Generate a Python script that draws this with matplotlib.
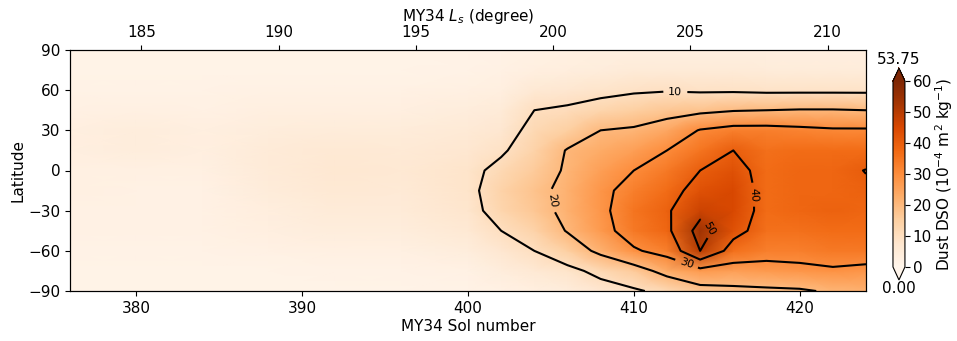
import numpy as np
import matplotlib
matplotlib.use('Agg')
import matplotlib.pyplot as plt

# grid (sol number x latitude)
sols = [376, 380, 384, 388, 392, 396, 400, 402, 404, 406, 408, 410,
        412, 414, 416, 418, 420, 422, 424]
lats = [-90, -75, -60, -45, -30, -15, 0, 15, 30, 45, 60, 75, 90]

# one row per sol, values from lat -90 to 90 (1e-4 m2 kg-1)
dso_by_sol = [
    [1, 1, 1.5, 2, 2, 2.5, 2.5, 3, 3, 2, 1.5, 1, 1],
    [1, 1, 1.5, 2, 2, 2, 2.5, 4, 4, 2.5, 1.5, 1, 1],
    [1, 1, 1.5, 2, 2, 2, 2.5, 3, 3, 2, 1.5, 1, 1],
    [1, 1, 2, 3, 3.5, 4.5, 5, 5, 4, 3, 2, 1, 1],
    [1, 1.5, 2.5, 4, 5, 6, 6.5, 6, 4.5, 3, 2, 1, 1],
    [1, 1.5, 2.5, 4, 5, 5.5, 6, 5.5, 4.5, 3, 2, 1, 1],
    [1.5, 2, 4, 6, 7.5, 8, 8, 7, 5.5, 4, 2.5, 1.5, 1],
    [2, 4, 7, 10, 13, 14, 12, 9, 7, 5, 3, 2, 1.5],
    [3, 6, 10, 14, 17, 18, 16, 14, 12, 10, 6, 3, 2],
    [4, 8, 15, 20.5, 22, 22, 21, 20.5, 15, 11, 7, 3.5, 2.5],
    [7, 12, 22, 27, 28, 28, 26, 23, 20, 13, 8, 4, 3],
    [9, 16, 29, 34, 35, 33, 30, 26, 21, 15, 9, 5, 3],
    [12, 23, 33, 38, 39, 37, 34, 30, 24, 17, 9.5, 5, 3],
    [17, 27, 50, 53.75, 47, 43, 40, 35, 30.5, 18, 9, 5, 3],
    [18, 26, 36, 43, 45, 45, 43, 40, 33, 19.5, 9, 5, 3],
    [18.5, 27, 33, 36, 37, 37, 37, 36, 33, 20, 8.5, 4.5, 3],
    [19, 28, 33, 36, 38, 38, 38, 37, 32, 20.5, 8.5, 4.5, 3],
    [21, 29, 34, 37, 39, 38, 38, 37, 31, 20.5, 8.5, 4.5, 3],
    [22, 28, 34, 37, 38, 39, 40.2, 37, 31, 20, 8.5, 4.5, 3],
]

contour_levels = [10, 20, 30, 40, 50]
ls_ticks = [185, 190, 195, 200, 205, 210]
ls_range = (182.4, 211.4)

X, Y = np.meshgrid(sols, lats)
Z = np.array(dso_by_sol).T

fig = plt.figure(figsize=(9.57, 3.41), dpi=100)
ax = fig.add_axes([0.0731, 0.1466, 0.8318, 0.7068])

pc = ax.pcolormesh(X, Y, Z, cmap='Oranges', vmin=0, vmax=60, shading='gouraud')
cs = ax.contour(X, Y, Z, levels=contour_levels, colors='k', linewidths=1.5)
ax.clabel(cs, fmt='%d', fontsize=8,
          manual=[(412.5, 57), (406.3, -20), (413.2, -69), (416.6, -18), (414.4, -45)])

ax.set_xlim(376, 424)
ax.set_ylim(-90, 90)
ax.set_yticks([-90, -60, -30, 0, 30, 60, 90])
ax.set_xticks([380, 390, 400, 410, 420])
ax.tick_params(labelsize=11)
ax.set_xlabel('MY34 Sol number', fontsize=11, labelpad=2)
ax.set_ylabel('Latitude', fontsize=11, labelpad=2)

ax2 = ax.twiny()
ax2.set_xlim(*ls_range)
ax2.set_xticks(ls_ticks)
ax2.tick_params(labelsize=11)
ax2.set_xlabel('MY34 $L_s$ (degree)', fontsize=11, labelpad=3)

cax = fig.add_axes([0.9331, 0.179, 0.0125, 0.6216])
cb = fig.colorbar(pc, cax=cax, extend='both', extendfrac=0.07,
                  ticks=[0, 10, 20, 30, 40, 50, 60])
cb.ax.tick_params(labelsize=11, pad=2)
cb.set_label('Dust DSO ($10^{-4}$ m$^2$ kg$^{-1}$)', fontsize=11, labelpad=1)
cax.text(0.5, 1.075, '%.2f' % Z.max(), transform=cax.transAxes,
         ha='center', va='bottom', fontsize=11)
cax.text(0.5, -0.075, '0.00', transform=cax.transAxes,
         ha='center', va='top', fontsize=11)

fig.savefig('out.png', dpi=100)
